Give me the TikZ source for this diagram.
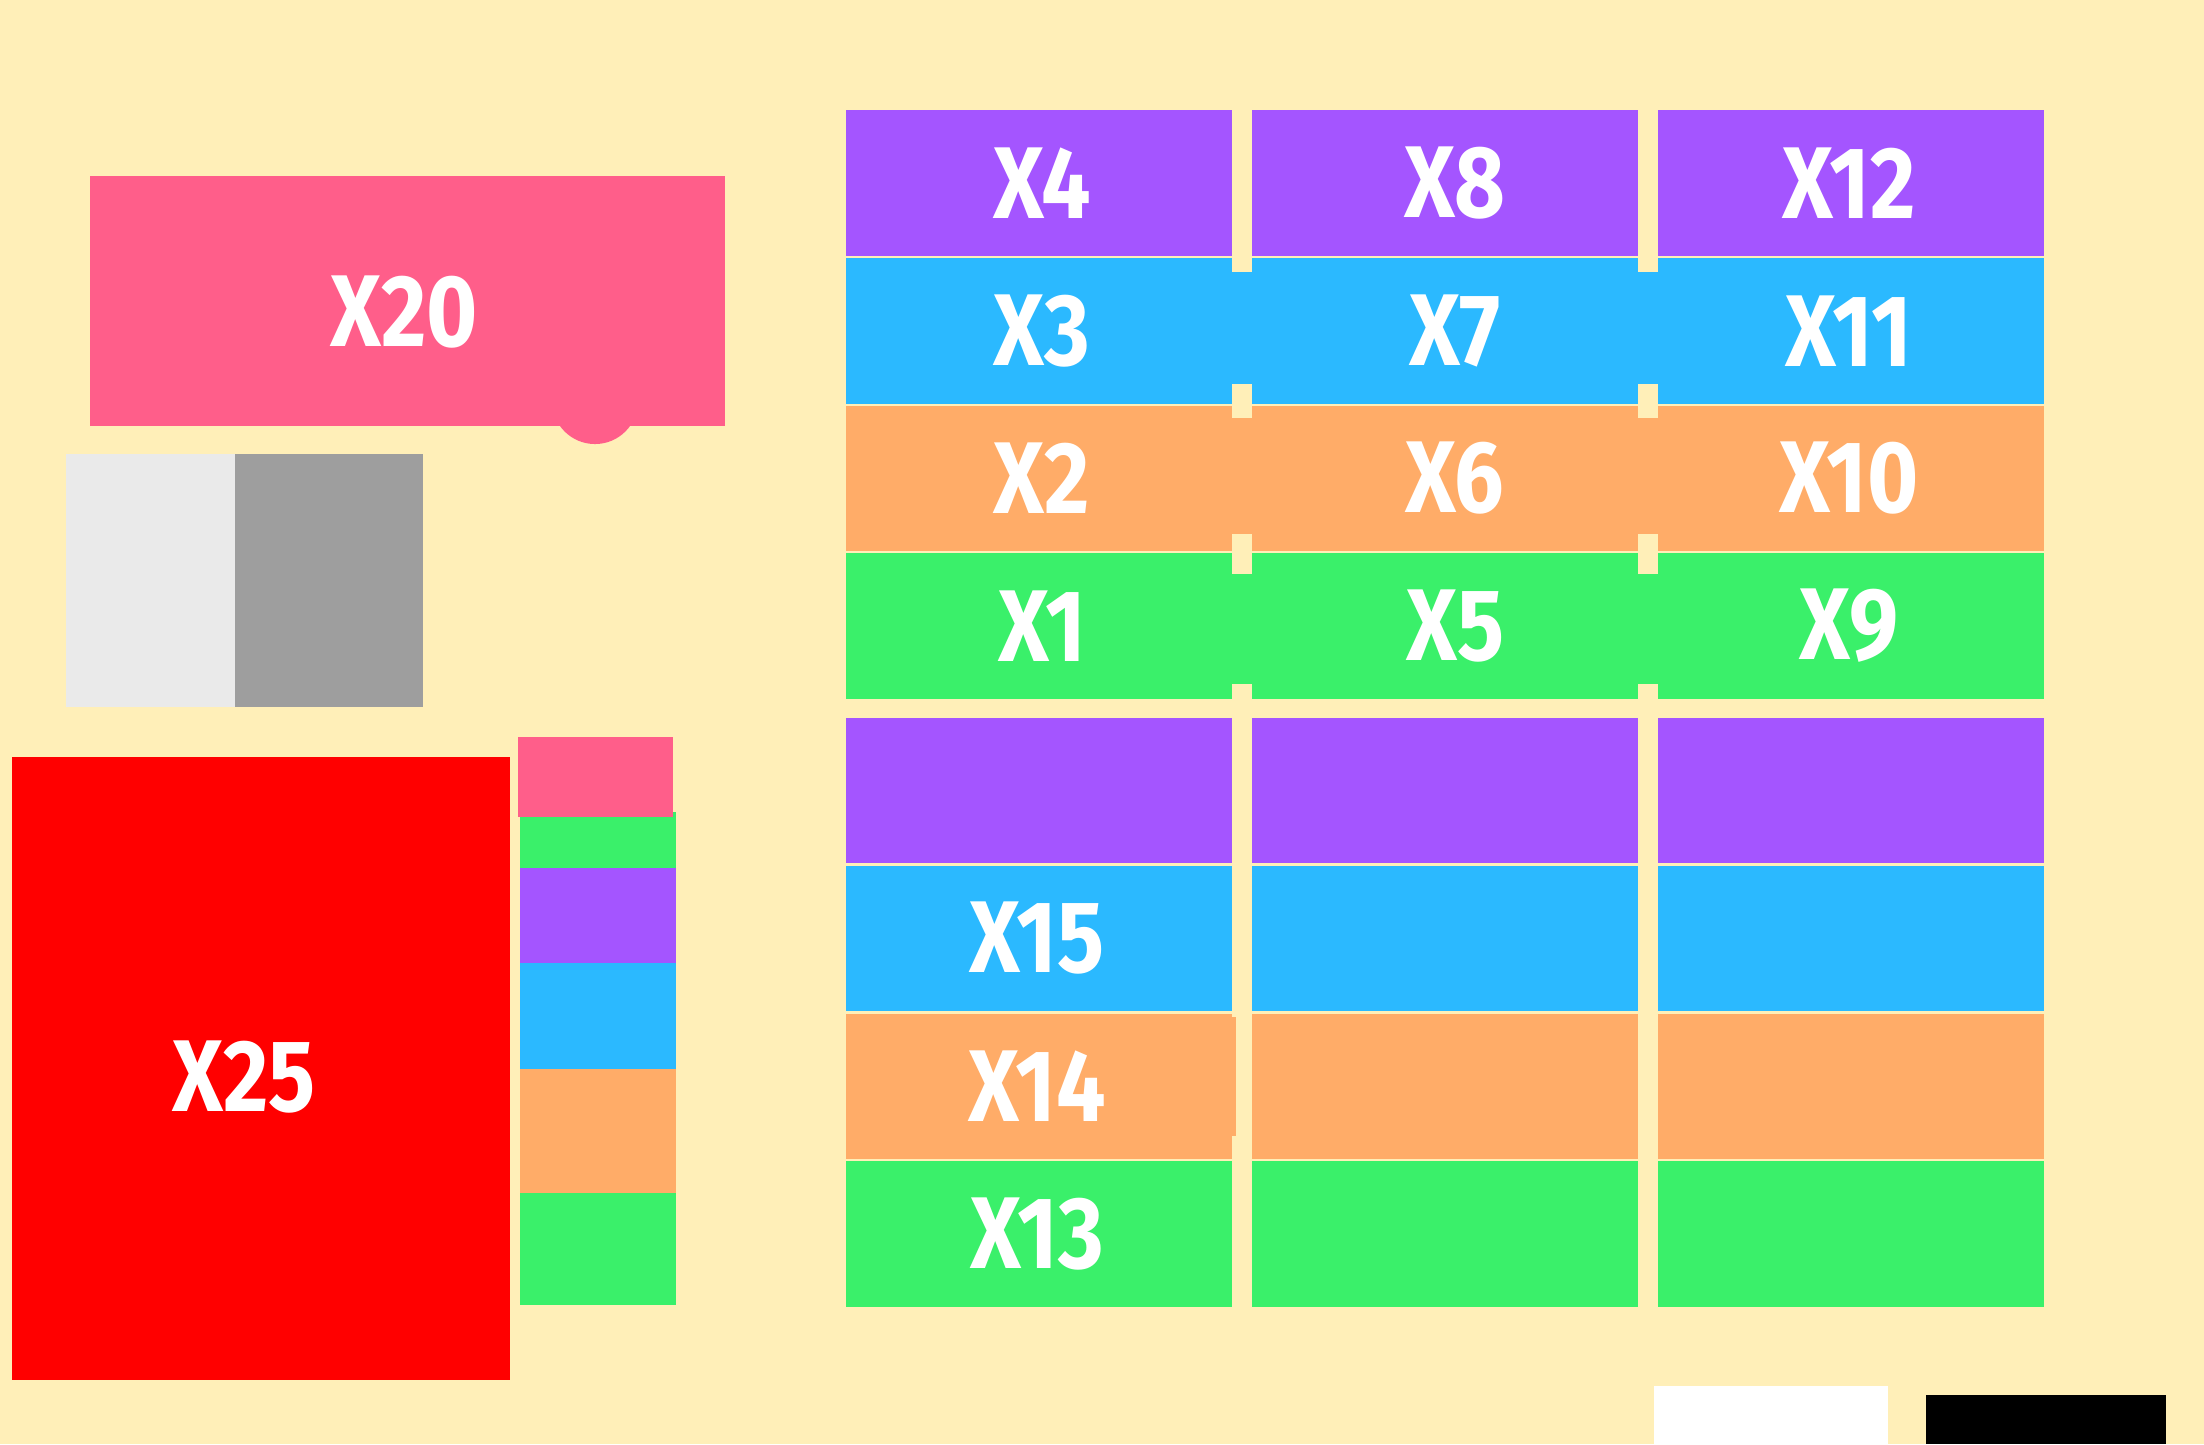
\documentclass[tikz,border=0pt]{standalone}
\usepackage{fontspec}
\newfontfamily\roomfont{Fira Sans}[FakeStretch=0.86]
\definecolor{floorbg}{HTML}{FFEFB8}
\definecolor{roompink}{HTML}{FF5E8A}
\definecolor{roompurple}{HTML}{A455FF}
\definecolor{roomblue}{HTML}{2BB9FF}
\definecolor{roomorange}{HTML}{FFAC68}
\definecolor{roomgreen}{HTML}{3AF06A}
\definecolor{lightgrey}{HTML}{EAEAEA}
\definecolor{darkgrey}{HTML}{9E9E9E}

\begin{document}
\begin{tikzpicture}[x=0.01cm, y=-0.01cm,
  labelnode/.style={text=white, inner sep=0pt, font=\roomfont\bfseries\fontsize{29pt}{29pt}\selectfont},
  wallpiece/.style={fill=floorbg},
]

\fill[floorbg] (0,0) rectangle (2204,1444);

\fill[roompink] (90,176) rectangle (725,426);
\fill[roompink] (595,401) circle (0.43cm);
\fill[lightgrey] (66,454) rectangle (235,707);
\fill[darkgrey] (235,454) rectangle (423,707);
\fill[red] (12,757) rectangle (510,1380);

\fill[roomgreen] (520,812) rectangle (676,868);
\fill[roompink] (518,737) rectangle (673,817);
\fill[roompurple] (520,868) rectangle (676,963);
\fill[roomblue] (520,963) rectangle (676,1069);
\fill[roomorange] (520,1069) rectangle (676,1193);
\fill[roomgreen] (520,1193) rectangle (676,1305);

\fill[roompurple] (846,110) rectangle (1232,256);
\fill[roompurple] (1252,110) rectangle (1638,256);
\fill[roompurple] (1658,110) rectangle (2044,256);
\fill[roomblue] (846,258) rectangle (2044,404);
\fill[roomorange] (846,406) rectangle (2044,551);
\fill[roomgreen] (846,553) rectangle (2044,699);

\fill[wallpiece] (1232,256) rectangle (1252,272);
\fill[wallpiece] (1232,384) rectangle (1252,418);
\fill[wallpiece] (1232,534) rectangle (1252,574);
\fill[wallpiece] (1232,684) rectangle (1252,699);
\fill[wallpiece] (1638,256) rectangle (1658,272);
\fill[wallpiece] (1638,384) rectangle (1658,418);
\fill[wallpiece] (1638,534) rectangle (1658,574);
\fill[wallpiece] (1638,684) rectangle (1658,699);

\fill[roompurple] (846,718) rectangle (1232,863);
\fill[roompurple] (1252,718) rectangle (1638,863);
\fill[roompurple] (1658,718) rectangle (2044,863);
\fill[roomblue] (846,866) rectangle (1232,1011);
\fill[roomblue] (1252,866) rectangle (1638,1011);
\fill[roomblue] (1658,866) rectangle (2044,1011);
\fill[roomorange] (846,1014) rectangle (1232,1159);
\fill[roomorange] (1232,1017) rectangle (1236,1136);
\fill[roomorange] (1252,1014) rectangle (1638,1159);
\fill[roomorange] (1658,1014) rectangle (2044,1159);
\fill[roomgreen] (846,1161) rectangle (1232,1307);
\fill[roomgreen] (1252,1161) rectangle (1638,1307);
\fill[roomgreen] (1658,1161) rectangle (2044,1307);

\fill[white] (1654,1386) rectangle (1888,1444);
\fill[black] (1926,1395) rectangle (2166,1444);

\node[labelnode] (x20) at (404,312) {X20};
\node[labelnode] (x25) at (244,1077) {X25};

\node[labelnode] (x4) at (1042,183) {X4};
\node[labelnode] (x3) at (1042,331) {X3};
\node[labelnode] (x2) at (1042,478) {X2};
\node[labelnode] (x1) at (1042,626) {X1};
\node[labelnode] (x8) at (1455,183) {X8};
\node[labelnode] (x7) at (1455,331) {X7};
\node[labelnode] (x6) at (1455,478) {X6};
\node[labelnode] (x5) at (1455,626) {X5};
\node[labelnode] (x12) at (1849,183) {X12};
\node[labelnode] (x11) at (1849,331) {X11};
\node[labelnode] (x10) at (1849,478) {X10};
\node[labelnode] (x9) at (1849,626) {X9};

\node[labelnode] (x15) at (1037,938) {X15};
\node[labelnode] (x14) at (1037,1086) {X14};
\node[labelnode] (x13) at (1037,1234) {X13};

\end{tikzpicture}
\end{document}
